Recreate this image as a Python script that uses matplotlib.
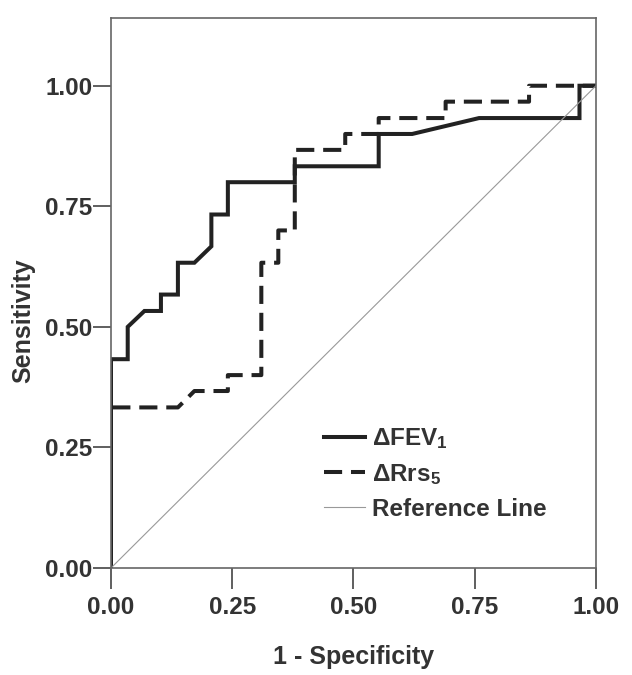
import matplotlib.pyplot as plt

plt.rcParams['font.family'] = 'Liberation Sans'
plt.rcParams['font.weight'] = 'bold'
plt.rcParams['mathtext.fontset'] = 'custom'
plt.rcParams['mathtext.rm'] = 'Liberation Sans:bold'
plt.rcParams['mathtext.it'] = 'Liberation Sans:bold'
plt.rcParams['mathtext.bf'] = 'Liberation Sans:bold'

# ROC-Kurven
fev_x = [0, 0, 0.0345, 0.0345, 0.069, 0.103, 0.103, 0.138, 0.138, 0.172, 0.207,
         0.207, 0.241, 0.241, 0.379, 0.379, 0.552, 0.552, 0.621, 0.759, 0.966, 0.966, 1.0]
fev_y = [0, 0.433, 0.433, 0.5, 0.533, 0.533, 0.567, 0.567, 0.633, 0.633, 0.667,
         0.733, 0.733, 0.8, 0.8, 0.833, 0.833, 0.9, 0.9, 0.933, 0.933, 1.0, 1.0]

rrs_x = [0, 0, 0.138, 0.172, 0.241, 0.241, 0.310, 0.310, 0.345, 0.345, 0.379,
         0.379, 0.483, 0.483, 0.552, 0.552, 0.690, 0.690, 0.862, 0.862, 1.0]
rrs_y = [0, 0.333, 0.333, 0.367, 0.367, 0.4, 0.4, 0.633, 0.633, 0.7, 0.7,
         0.867, 0.867, 0.9, 0.9, 0.933, 0.933, 0.967, 0.967, 1.0, 1.0]

ref_x = [0, 1]
ref_y = [0, 1]

ticks = [0.0, 0.25, 0.5, 0.75, 1.0]
tick_labels = ['0.00', '0.25', '0.50', '0.75', '1.00']

text_col = '#333333'
line_col = '#222222'

fig = plt.figure(figsize=(6.32, 6.75), dpi=100)
ax = fig.add_axes([0.1756, 0.1585, 0.7674, 0.8145])

ax.plot(fev_x, fev_y, color=line_col, lw=2.9, solid_joinstyle='miter',
        label='ΔFEV$_1$')
ax.plot(rrs_x, rrs_y, color=line_col, lw=2.9, dashes=(4.5, 2.2),
        label='ΔRrs$_5$')
ax.plot(ref_x, ref_y, color='#999999', lw=0.8, label='Reference Line')

ax.set_xlim(0, 1)
ax.set_ylim(0, 1.14)
ax.set_xticks(ticks)
ax.set_xticklabels(tick_labels)
ax.set_yticks(ticks)
ax.set_yticklabels(tick_labels)
ax.tick_params(direction='out', width=1.2, color='#444444',
               labelsize=17.5, labelcolor=text_col)
ax.tick_params(axis='y', length=13, pad=0.5)
ax.tick_params(axis='x', length=15, pad=5)

for sp in ax.spines.values():
    sp.set_color('#666666')
    sp.set_linewidth(1.2)

ax.set_xlabel('1 - Specificity', fontsize=18, fontweight='bold', color=text_col)
ax.set_ylabel('Sensitivity', fontsize=18, fontweight='bold', color=text_col)
ax.xaxis.set_label_coords(0.5, -0.161)
ax.xaxis.label.set_va('center')
ax.yaxis.set_label_coords(-0.181, 0.45)
ax.yaxis.label.set_va('center')

leg = ax.legend(loc='upper left', bbox_to_anchor=(0.395, 0.298), frameon=False,
                fontsize=17.5, handlelength=1.65, handletextpad=0.3,
                labelspacing=0.45)
for t in leg.get_texts():
    t.set_color(text_col)

plt.savefig('out.png', dpi=100)
